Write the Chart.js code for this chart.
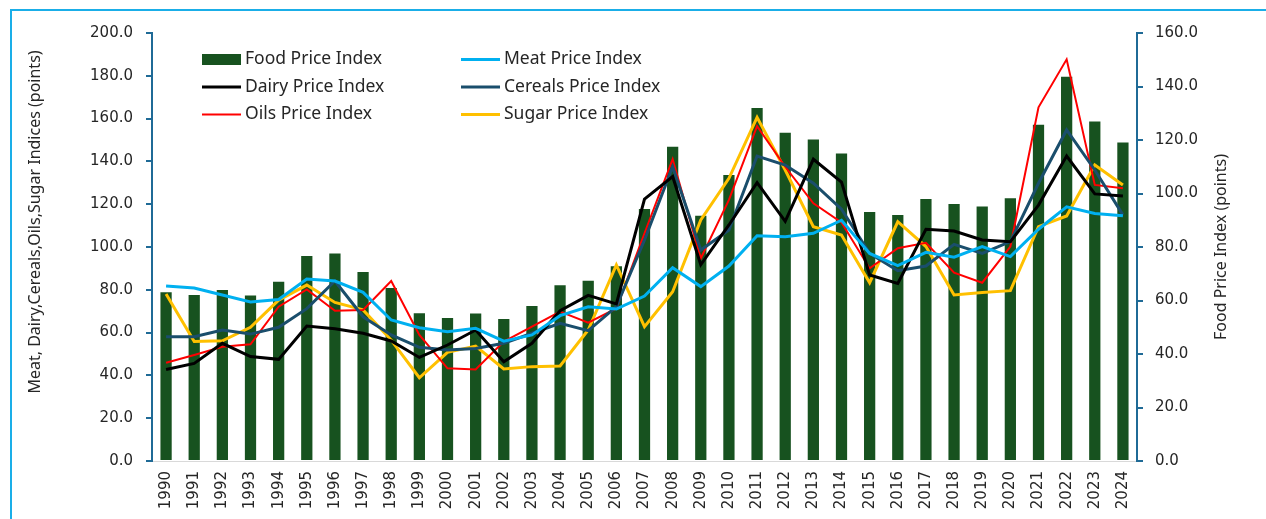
<!DOCTYPE html>
<html>
<head>
<meta charset="utf-8">
<script src="https://cdn.jsdelivr.net/npm/chart.js@4.4.1/dist/chart.umd.min.js"></script>
<style>
  html, body { margin: 0; padding: 0; background: #ffffff; overflow: hidden; }
  #wrap { position: relative; width: 1266px; height: 519px; }
  #frame { position: absolute; left: 10px; top: 9px; width: 1400px; height: 700px; border: 2px solid #1AAEE8; box-sizing: border-box; }
  #c { position: absolute; left: 0; top: 0; }
</style>
</head>
<body>
<div id="wrap">
  <div id="frame"></div>
  <canvas id="c" width="1266" height="519"></canvas>
</div>
<script>
const years = ['1990','1991','1992','1993','1994','1995','1996','1997','1998','1999','2000','2001','2002','2003','2004','2005','2006','2007','2008','2009','2010','2011','2012','2013','2014','2015','2016','2017','2018','2019','2020','2021','2022','2023','2024'];

const foodIndex   = [63.1, 62.1, 63.9, 61.9, 67.0, 76.6, 77.6, 70.7, 64.7, 55.2, 53.5, 55.1, 53.1, 57.9, 65.7, 67.4, 72.8, 94.2, 117.5, 91.7, 106.9, 132.0, 122.7, 120.2, 115.0, 93.1, 92.0, 97.9, 96.1, 95.1, 98.2, 125.7, 143.6, 126.9, 119.1];
const meatIndex   = [81.8, 80.8, 77.6, 74.3, 75.5, 85.0, 84.1, 78.8, 65.9, 62.3, 60.4, 62.0, 56.0, 58.9, 67.9, 72.1, 71.0, 77.1, 90.3, 81.5, 91.1, 105.3, 104.8, 106.4, 112.5, 97.0, 91.3, 97.5, 95.2, 100.2, 95.5, 108.3, 118.8, 115.7, 114.6];
const dairyIndex  = [42.8, 45.6, 55.0, 48.8, 47.5, 63.1, 61.8, 59.7, 56.1, 48.4, 54.2, 61.2, 46.4, 55.0, 70.2, 77.4, 73.4, 122.4, 132.9, 91.7, 110.3, 130.1, 112.0, 141.0, 130.3, 86.9, 83.0, 108.3, 107.5, 103.3, 102.5, 119.6, 142.5, 124.8, 123.8];
const cerealsIndex= [58.1, 58.1, 61.2, 59.3, 62.5, 71.2, 84.1, 67.4, 58.9, 53.1, 51.9, 52.6, 55.0, 59.7, 64.3, 60.9, 72.1, 103.3, 137.5, 98.6, 107.9, 142.5, 138.3, 129.8, 117.7, 97.0, 88.9, 91.1, 101.2, 97.0, 102.5, 129.8, 154.7, 136.0, 115.0];
const oilsIndex   = [45.9, 49.5, 53.4, 54.5, 72.1, 80.2, 70.2, 70.6, 84.1, 58.9, 43.3, 42.8, 55.8, 62.8, 69.8, 64.6, 71.3, 106.4, 141.0, 94.7, 122.0, 156.5, 137.5, 120.4, 111.5, 90.0, 99.4, 102.0, 88.0, 83.3, 100.2, 165.3, 187.7, 129.0, 127.4];
const sugarIndex  = [78.0, 55.8, 56.2, 62.5, 75.2, 82.2, 74.1, 70.6, 56.5, 38.9, 50.8, 53.7, 43.0, 44.1, 44.4, 61.2, 91.6, 62.8, 79.1, 112.6, 132.1, 160.6, 136.0, 109.5, 105.6, 83.3, 111.8, 100.2, 77.6, 78.7, 79.6, 109.5, 114.5, 138.3, 129.0];

const leftTicks = [0, 20, 40, 60, 80, 100, 120, 140, 160, 180, 200];
const rightTicks = [0, 20, 40, 60, 80, 100, 120, 140, 160];

const AXIS_COLOR = '#1F6A96';
const TEXT_COLOR = '#262626';
const TICK_FONT = { family: 'DejaVu Sans', size: 15 };
const LABEL_FAMILY = 'Noto Sans';

const seriesStyle = [
  { label: 'Food Price Index',    color: '#17521F', kind: 'bar' },
  { label: 'Meat Price Index',    color: '#00B0F0', width: 3 },
  { label: 'Dairy Price Index',   color: '#000000', width: 3 },
  { label: 'Cereals Price Index', color: '#1A4E6C', width: 3 },
  { label: 'Oils Price Index',    color: '#FF0000', width: 2 },
  { label: 'Sugar Price Index',   color: '#FFC000', width: 3 }
];

function lineDs(i, data) {
  const s = seriesStyle[i];
  return {
    type: 'line', label: s.label, data: data, yAxisID: 'y',
    borderColor: s.color, backgroundColor: s.color, borderWidth: s.width,
    pointRadius: 0, tension: 0, fill: false, order: 0
  };
}

const customLegendAndTitles = {
  id: 'customLegendAndTitles',
  afterDraw(chart) {
    const ctx = chart.ctx;
    ctx.save();
    // axis titles
    ctx.fillStyle = TEXT_COLOR;
    ctx.font = '16px "' + LABEL_FAMILY + '"';
    ctx.textAlign = 'center';
    ctx.textBaseline = 'middle';
    ctx.save();
    ctx.translate(35, 222);
    ctx.rotate(-Math.PI / 2);
    ctx.fillText('Meat, Dairy,Cereals,Oils,Sugar Indices (points)', 0, 0);
    ctx.restore();
    ctx.save();
    ctx.translate(1221, 247);
    ctx.rotate(-Math.PI / 2);
    ctx.fillText('Food Price Index (points)', 0, 0);
    ctx.restore();

    // legend
    const cols = [202, 461];
    const rows = [59.5, 87, 114.5];
    ctx.font = '17.5px "' + LABEL_FAMILY + '"';
    ctx.textAlign = 'left';
    ctx.textBaseline = 'middle';
    seriesStyle.forEach((s, i) => {
      const x = cols[i % 2];
      const y = rows[Math.floor(i / 2)];
      if (s.kind === 'bar') {
        ctx.fillStyle = s.color;
        ctx.fillRect(x, y - 5.5, 39, 11);
      } else {
        ctx.strokeStyle = s.color;
        ctx.lineWidth = s.width;
        ctx.beginPath();
        ctx.moveTo(x, y);
        ctx.lineTo(x + 39, y);
        ctx.stroke();
      }
      ctx.fillStyle = TEXT_COLOR;
      ctx.fillText(s.label, x + 43, y);
    });
    ctx.restore();
  }
};

new Chart(document.getElementById('c'), {
  data: {
    labels: years,
    datasets: [
      {
        type: 'bar', label: seriesStyle[0].label, data: foodIndex, yAxisID: 'y1',
        backgroundColor: seriesStyle[0].color, borderWidth: 0,
        barPercentage: 0.4, categoryPercentage: 1.0, order: 1
      },
      lineDs(1, meatIndex),
      lineDs(2, dairyIndex),
      lineDs(3, cerealsIndex),
      lineDs(4, oilsIndex),
      lineDs(5, sugarIndex)
    ]
  },
  options: {
    responsive: false,
    animation: false,
    devicePixelRatio: 1,
    layout: { padding: { top: 33, left: 0, right: 0, bottom: 0 } },
    plugins: { legend: { display: false }, tooltip: { enabled: false } },
    scales: {
      x: {
        type: 'category',
        offset: true,
        grid: { display: false, drawTicks: false },
        border: { display: true, color: '#D9D9D9', width: 1 },
        ticks: { font: TICK_FONT, color: TEXT_COLOR, minRotation: 90, maxRotation: 90, autoSkip: false, padding: 10 },
        afterFit(scale) { scale.height = 58; }
      },
      y: {
        position: 'left', min: 0, max: 200,
        afterBuildTicks(scale) { scale.ticks = leftTicks.map(v => ({ value: v })); },
        grid: { display: true, drawOnChartArea: false, drawTicks: true, tickLength: 6, color: AXIS_COLOR, lineWidth: 2 },
        border: { display: true, color: AXIS_COLOR, width: 2 },
        ticks: { font: TICK_FONT, color: TEXT_COLOR, padding: 13, callback: v => Number(v).toFixed(1) },
        afterFit(scale) { scale.width = 152; }
      },
      y1: {
        position: 'right', min: 0, max: 160,
        afterBuildTicks(scale) { scale.ticks = rightTicks.map(v => ({ value: v })); },
        grid: { display: true, drawOnChartArea: false, drawTicks: true, tickLength: 6, color: AXIS_COLOR, lineWidth: 2 },
        border: { display: true, color: AXIS_COLOR, width: 2 },
        ticks: { font: TICK_FONT, color: TEXT_COLOR, padding: 12, callback: v => Number(v).toFixed(1) },
        afterFit(scale) { scale.width = 129; }
      }
    }
  },
  plugins: [customLegendAndTitles]
});
</script>
</body>
</html>
